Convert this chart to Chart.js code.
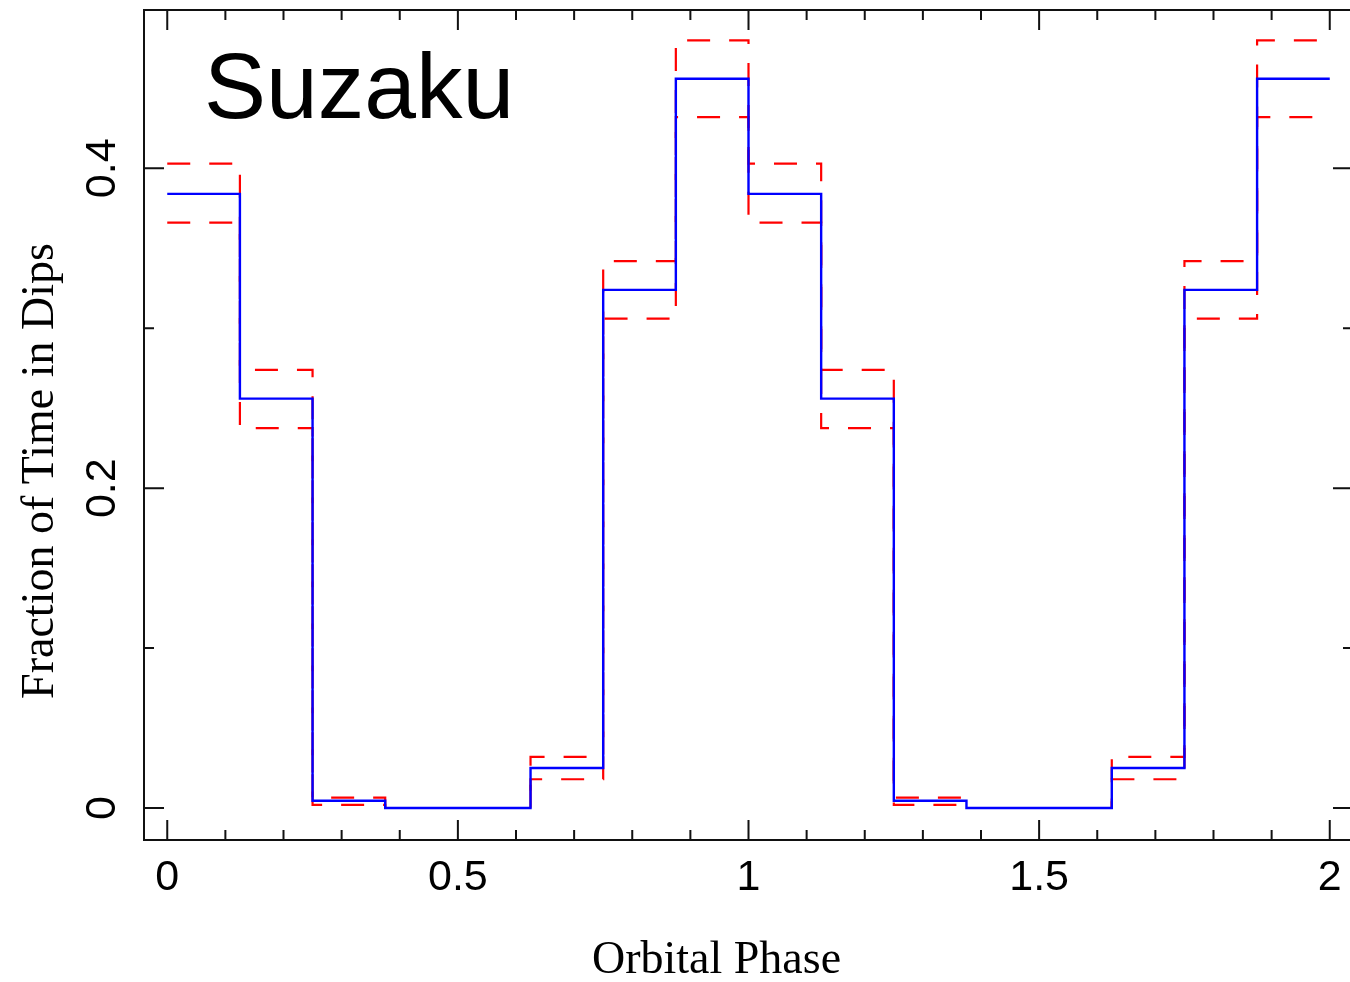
<!DOCTYPE html>
<html>
<head>
<meta charset="utf-8">
<script src="https://cdn.jsdelivr.net/npm/chart.js@4/dist/chart.umd.min.js"></script>
<style>
  html, body { margin: 0; padding: 0; background: #fff; overflow: hidden; }
  #wrap { width: 1356px; height: 982px; }
</style>
</head>
<body>
<div id="wrap"><canvas id="dipChart" width="1356" height="982"></canvas></div>
<script>
// bin edges in orbital phase (16 bins of 0.125, two cycles)
const phaseEdges = [0, 0.125, 0.25, 0.375, 0.5, 0.625, 0.75, 0.875, 1, 1.125, 1.25, 1.375, 1.5, 1.625, 1.75, 1.875, 2];
// fraction of time in dips per bin, with upper / lower bounds
const dipFraction = [0.384, 0.256, 0.0045, 0, 0, 0.025, 0.324, 0.456, 0.384, 0.256, 0.0045, 0, 0, 0.025, 0.324, 0.456];
const dipUpper = [0.403, 0.274, 0.0065, 0, 0, 0.032, 0.342, 0.480, 0.403, 0.274, 0.0065, 0, 0, 0.032, 0.342, 0.480];
const dipLower = [0.366, 0.2375, 0.002, 0, 0, 0.018, 0.306, 0.432, 0.366, 0.2375, 0.002, 0, 0, 0.018, 0.306, 0.432];

const xMajorTicks = [0, 0.5, 1, 1.5, 2];
const xTickLabels = ['0', '0.5', '1', '1.5', '2'];
const xMinorTicks = [0.1, 0.2, 0.3, 0.4, 0.6, 0.7, 0.8, 0.9, 1.1, 1.2, 1.3, 1.4, 1.6, 1.7, 1.8, 1.9];
const yMajorTicks = [0, 0.2, 0.4];
const yTickLabels = ['0', '0.2', '0.4'];
const yMinorTicks = [0.1, 0.3];

const SANS = '"Liberation Sans", Arial, Helvetica, sans-serif';
const SERIF = '"Liberation Serif", "Times New Roman", serif';

// histogram points: one per bin start, plus closing point at the last edge
function stepData(vals) {
    return phaseEdges.map((x, i) => ({ x: x, y: vals[Math.min(i, vals.length - 1)] }));
}

// frame with inward ticks on all four sides, labels and titles
const frameAxes = {
    id: 'frameAxes',
    afterDraw(chart) {
        const ctx = chart.ctx, a = chart.chartArea;
        const xs = chart.scales.x, ys = chart.scales.y;
        ctx.save();
        ctx.strokeStyle = '#111';
        ctx.lineWidth = 2;
        ctx.strokeRect(a.left, a.top, a.right - a.left, a.bottom - a.top);

        ctx.beginPath();
        const xTick = (v, len) => {
            const px = xs.getPixelForValue(v);
            ctx.moveTo(px, a.bottom); ctx.lineTo(px, a.bottom - len);
            ctx.moveTo(px, a.top); ctx.lineTo(px, a.top + len);
        };
        const yTick = (v, len) => {
            const py = ys.getPixelForValue(v);
            ctx.moveTo(a.left, py); ctx.lineTo(a.left + len, py);
            ctx.moveTo(a.right, py); ctx.lineTo(a.right - len, py);
        };
        xMajorTicks.forEach(v => xTick(v, 20));
        xMinorTicks.forEach(v => xTick(v, 10));
        yMajorTicks.forEach(v => yTick(v, 20));
        yMinorTicks.forEach(v => yTick(v, 10));
        ctx.stroke();

        ctx.fillStyle = '#000';
        ctx.font = '43px ' + SANS;
        ctx.textAlign = 'center';
        ctx.textBaseline = 'alphabetic';
        xMajorTicks.forEach((v, i) => ctx.fillText(xTickLabels[i], xs.getPixelForValue(v), 890));

        yMajorTicks.forEach((v, i) => {
            ctx.save();
            ctx.translate(115, ys.getPixelForValue(v));
            ctx.rotate(-Math.PI / 2);
            ctx.fillText(yTickLabels[i], 0, 0);
            ctx.restore();
        });

        ctx.font = '46px ' + SERIF;
        ctx.fillText('Orbital Phase', (xs.getPixelForValue(0) + xs.getPixelForValue(2)) / 2 - 32, 973);
        ctx.save();
        ctx.translate(53, 471);
        ctx.rotate(-Math.PI / 2);
        ctx.fillText('Fraction of Time in Dips', 0, 0);
        ctx.restore();

        ctx.font = '93px ' + SANS;
        ctx.textAlign = 'left';
        ctx.fillText('Suzaku', 204, 118);
        ctx.restore();
    }
};

const errStyle = { borderColor: '#ff0000', borderWidth: 2.2, borderDash: [23, 19], pointRadius: 0, stepped: true, fill: false, borderJoinStyle: 'miter' };

new Chart(document.getElementById('dipChart').getContext('2d'), {
    type: 'line',
    data: {
        datasets: [
            { label: 'Fraction', data: stepData(dipFraction), borderColor: '#0000ff', borderWidth: 2.4, pointRadius: 0, stepped: true, fill: false, borderJoinStyle: 'miter' },
            Object.assign({ label: 'Upper', data: stepData(dipUpper) }, errStyle),
            Object.assign({ label: 'Lower', data: stepData(dipLower) }, errStyle)
        ]
    },
    options: {
        responsive: false,
        animation: false,
        devicePixelRatio: 1,
        layout: { padding: { left: 144, right: 3, top: 10, bottom: 142 } },
        scales: {
            x: { type: 'linear', min: -0.04, max: 2.04, display: false },
            y: { type: 'linear', min: -0.02, max: 0.499, display: false }
        },
        plugins: { legend: { display: false }, tooltip: { enabled: false } }
    },
    plugins: [frameAxes]
});
</script>
</body>
</html>
